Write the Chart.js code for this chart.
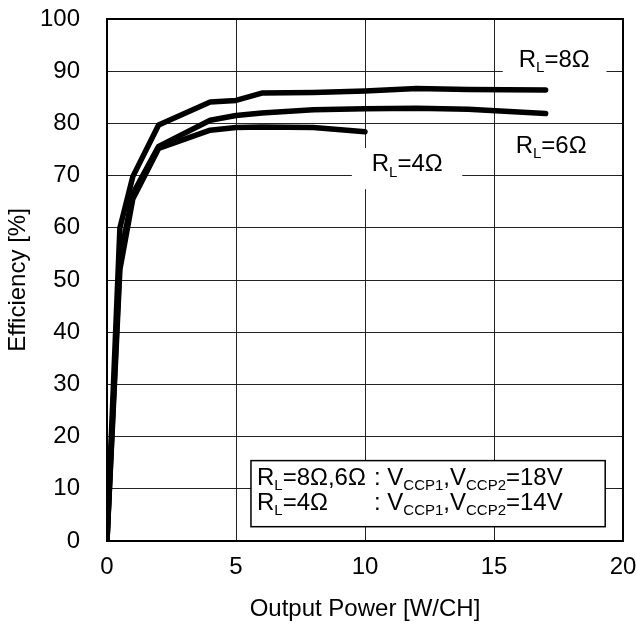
<!DOCTYPE html>
<html>
<head>
<meta charset="utf-8">
<script src="https://cdn.jsdelivr.net/npm/chart.js@4"></script>
<style>
  body { margin: 0; background: #fff; }
  #wrap { width: 636px; height: 626px; }
</style>
</head>
<body>
<div id="wrap"><canvas id="effChart" width="636" height="626"></canvas></div>
<script>
const power8 = [0, 0.5, 1.0, 2.0, 4.0, 5.0, 6.0, 8.0, 10.0, 12.0, 14.0, 17.0];
const eff8   = [0, 60.0, 69.8, 79.7, 84.1, 84.4, 85.8, 85.9, 86.2, 86.7, 86.5, 86.4];

const power6 = [0, 0.5, 1.0, 2.0, 4.0, 5.0, 6.0, 8.0, 10.0, 12.0, 14.0, 17.0];
const eff6   = [0, 54.0, 66.5, 75.6, 80.6, 81.5, 82.0, 82.6, 82.8, 82.9, 82.7, 81.9];

const power4 = [0, 0.5, 1.0, 2.0, 4.0, 5.0, 6.0, 8.0, 10.0];
const eff4   = [0, 52.0, 65.5, 75.2, 78.7, 79.2, 79.3, 79.2, 78.4];

const xTicks = [0, 5, 10, 15, 20];
const yTicks = [0, 10, 20, 30, 40, 50, 60, 70, 80, 90, 100];

const FONT = "'Liberation Sans', Arial, sans-serif";
const FS = 24;

function pts(xs, ys) {
  return xs.map((x, i) => ({x: x, y: ys[i]}));
}

function line(label, xs, ys) {
  return {
    label: label,
    data: pts(xs, ys),
    borderColor: "#000",
    borderWidth: 5.5,
    pointRadius: 0,
    tension: 0,
    fill: false,
    borderJoinStyle: 'round',
    borderCapStyle: 'round'
  };
}

// text with subscripts: parts = [[text, isSub], ...]
function drawParts(ctx, parts, x, y, size) {
  let cx = x;
  parts.forEach(p => {
    if (p[1]) {
      ctx.font = Math.round(size * 0.64) + "px " + FONT;
      ctx.fillText(p[0], cx, y + size * 0.22);
    } else {
      ctx.font = size + "px " + FONT;
      ctx.fillText(p[0], cx, y);
    }
    cx += ctx.measureText(p[0]).width;
  });
  return cx;
}

const notes = {
  id: 'notes',
  afterDatasetsDraw(chart) {
    const ctx = chart.ctx, xs = chart.scales.x, ys = chart.scales.y;
    const a = chart.chartArea;
    ctx.save();
    ctx.textBaseline = 'alphabetic';
    ctx.textAlign = 'left';

    // curve labels, some on white patches
    const labels = [
      {px: 15.96, py: 90.9, box: [15.34, 19.36, 96, 88], parts: [["R"], ["L", 1], ["=8Ω"]]},
      {px: 15.84, py: 74.3, box: null, parts: [["R"], ["L", 1], ["=6Ω"]]},
      {px: 10.26, py: 70.8, box: [9.49, 13.77, 75.3, 67.4], parts: [["R"], ["L", 1], ["=4Ω"]]}
    ];
    labels.forEach(l => {
      if (l.box) {
        ctx.fillStyle = "#fff";
        const x0 = xs.getPixelForValue(l.box[0]), x1 = xs.getPixelForValue(l.box[1]);
        const y0 = ys.getPixelForValue(l.box[2]), y1 = ys.getPixelForValue(l.box[3]);
        ctx.fillRect(x0, y0, x1 - x0, y1 - y0);
      }
      ctx.fillStyle = "#000";
      drawParts(ctx, l.parts, xs.getPixelForValue(l.px), ys.getPixelForValue(l.py), FS);
    });

    // conditions box
    const bx0 = xs.getPixelForValue(5.58), bx1 = xs.getPixelForValue(19.31);
    const by0 = ys.getPixelForValue(15.4), by1 = ys.getPixelForValue(2.74);
    ctx.fillStyle = "#fff";
    ctx.fillRect(bx0, by0, bx1 - bx0, by1 - by0);
    ctx.strokeStyle = "#000";
    ctx.lineWidth = 1.5;
    ctx.strokeRect(bx0, by0, bx1 - bx0, by1 - by0);
    ctx.fillStyle = "#000";
    const tx = bx0 + 6, colonX = bx0 + 123;
    drawParts(ctx, [["R"], ["L", 1], ["=8Ω,6Ω"]], tx, by0 + 24, FS);
    drawParts(ctx, [[": V"], ["CCP1", 1], [",V"], ["CCP2", 1], ["=18V"]], colonX, by0 + 24, FS);
    drawParts(ctx, [["R"], ["L", 1], ["=4Ω"]], tx, by0 + 49, FS);
    drawParts(ctx, [[": V"], ["CCP1", 1], [",V"], ["CCP2", 1], ["=14V"]], colonX, by0 + 49, FS);

    // frame
    ctx.lineWidth = 2;
    ctx.strokeRect(a.left, a.top, a.right - a.left, a.bottom - a.top);
    ctx.restore();
  }
};

const CHART = document.getElementById("effChart");

let effChart = new Chart(CHART, {
  type: 'line',
  data: {
    datasets: [
      line("RL=8Ω", power8, eff8),
      line("RL=6Ω", power6, eff6),
      line("RL=4Ω", power4, eff4)
    ]
  },
  options: {
    responsive: false,
    animation: false,
    layout: {padding: {top: 19, right: 13, left: 0, bottom: 0}},
    plugins: {legend: {display: false}, tooltip: {enabled: false}},
    scales: {
      x: {
        type: 'linear',
        min: 0, max: 20,
        afterFit: s => { s.height = 85; s.paddingLeft = 0; s.paddingRight = 0; },
        afterBuildTicks: s => { s.ticks = xTicks.map(v => ({value: v})); },
        grid: {color: "#222", lineWidth: 1, drawTicks: false},
        border: {display: false},
        ticks: {color: "#000", padding: 12, font: {family: FONT, size: FS}},
        title: {display: true, text: "Output Power [W/CH]", color: "#000",
                font: {family: FONT, size: FS}, padding: {top: 0, bottom: 2}}
      },
      y: {
        min: 0, max: 100,
        afterFit: s => { s.width = 107; s.paddingTop = 0; s.paddingBottom = 0; },
        afterBuildTicks: s => { s.ticks = yTicks.map(v => ({value: v})); },
        grid: {color: "#222", lineWidth: 1, drawTicks: false},
        border: {display: false},
        ticks: {color: "#000", padding: 27, font: {family: FONT, size: FS}},
        title: {display: true, text: "Efficiency [%]", color: "#000",
                font: {family: FONT, size: FS}, padding: {top: 4, bottom: 0}}
      }
    }
  },
  plugins: [notes]
});
</script>
</body>
</html>
